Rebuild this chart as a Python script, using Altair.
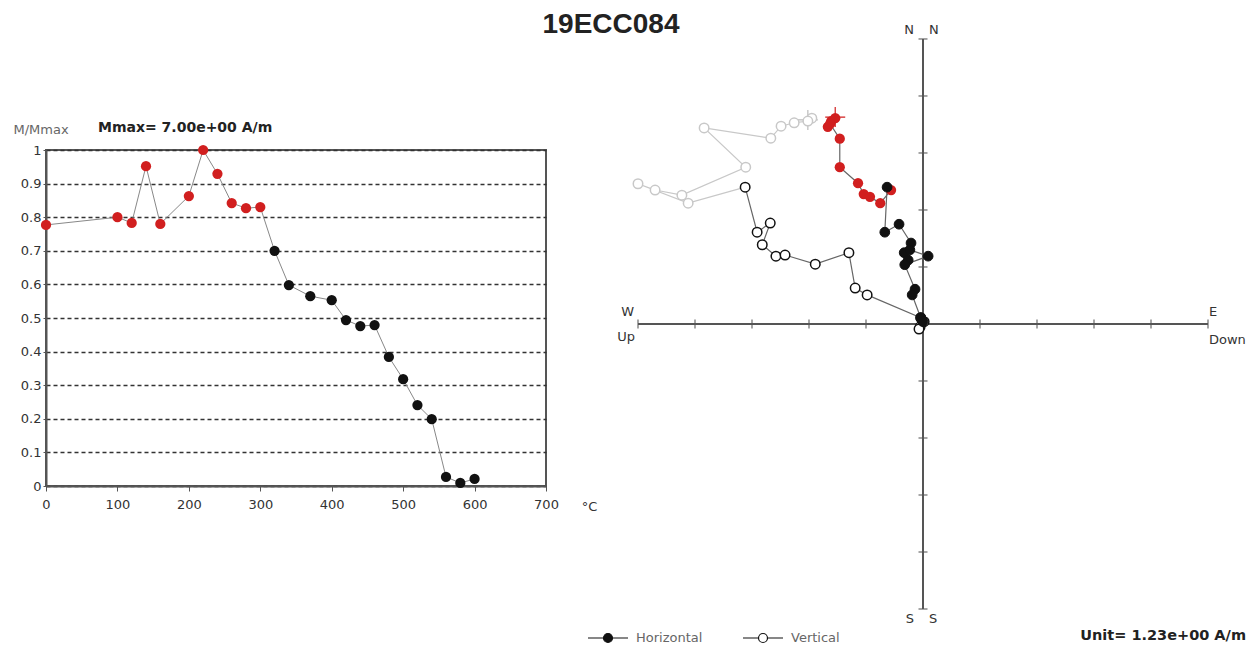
import altair as alt
import pandas as pd

TITLE = "19ECC084"
MMAX_LABEL = "Mmax= 7.00e+00  A/m"
UNIT_LABEL = "Unit=  1.23e+00 A/m"
FONT = "DejaVu Sans"

# ---- Demagnetisation curve ----
TEMPS = [0, 100, 120, 140, 160, 200, 220, 240, 260, 280, 300,
         320, 340, 370, 400, 420, 440, 460, 480, 500, 520, 540, 560, 580, 600]
M_NORM = [0.777, 0.800, 0.783, 0.952, 0.780, 0.863, 1.000, 0.929, 0.842, 0.827, 0.830,
          0.700, 0.598, 0.565, 0.553, 0.494, 0.476, 0.479, 0.384, 0.318, 0.241, 0.199,
          0.027, 0.009, 0.021]
N_LOW = 11  # first steps shown in red / light grey
T_TICKS = [0, 100, 200, 300, 400, 500, 600, 700]
M_TICKS = [0.0, 0.1, 0.2, 0.3, 0.4, 0.5, 0.6, 0.7, 0.8, 0.9, 1.0]

# ---- Zijderveld diagram (units of 1.23 A/m) ----
H_EAST = [-1.61, -1.54, -1.67, -1.63, -1.46, -1.46, -1.14, -1.04, -0.93, -0.75, -0.56,
          -0.63, -0.67, -0.42, -0.21, -0.33, -0.26, -0.23, 0.09, -0.32, -0.14, -0.19,
          -0.04, -0.02, 0.00]
H_NORTH = [3.56, 3.61, 3.46, 3.51, 3.25, 2.75, 2.47, 2.28, 2.23, 2.12, 2.35,
           2.40, 1.61, 1.75, 1.42, 1.25, 1.12, 1.30, 1.19, 1.04, 0.61, 0.51,
           0.11, 0.07, 0.04]
V_UP = [-1.95, -2.02, -2.26, -2.49, -2.67, -3.84, -3.11, -4.23, -4.70, -5.00, -4.12,
        -3.12, -2.91, -2.68, -2.82, -2.58, -2.42, -1.89, -1.30, -1.19, -0.98,
        -0.04, 0.02, -0.05, -0.07]
V_NORTH = [3.61, 3.56, 3.53, 3.47, 3.26, 3.44, 2.75, 2.26, 2.35, 2.46, 2.12,
           2.40, 1.61, 1.77, 1.39, 1.19, 1.21, 1.05, 1.25, 0.63, 0.51,
           0.11, 0.04, -0.05, -0.09]
CROSS_H = [-1.54, 3.63]
CROSS_V = [-2.02, 3.58]
ZIJ_LIMIT = 5
ZIJ_TICKS = [-5, -4, -3, -2, -1, 1, 2, 3, 4, 5]
ZIJ_TOP = 5.21

RED = "#d11f1f"
BLACK = "#111111"
LIGHT = "#c8c8c8"

# ================= Left panel =================
n = len(TEMPS)
left_df = pd.DataFrame({
    "T": TEMPS, "M": M_NORM,
    "phase": ["low"] * N_LOW + ["high"] * (n - N_LOW),
})

x_left = alt.X(
    "T:Q", scale=alt.Scale(domain=[0, 700], nice=False),
    axis=alt.Axis(values=T_TICKS, title="°C", titleX=543, titleY=20,
                  titleAlign="center", titleBaseline="middle", titleFont=FONT,
                  titleFontSize=13, titleFontWeight="normal", titleColor="#333",
                  labelFont=FONT, labelFontSize=13, labelColor="#333",
                  tickSize=5, tickColor="#555", labelPadding=7, labelOverlap=False,
                  domainColor="#555", domainWidth=2, grid=False, labelFlush=False),
)
y_left = alt.Y(
    "M:Q", scale=alt.Scale(domain=[0, 1], nice=False),
    axis=alt.Axis(values=M_TICKS, tickCount=11, format=".1~f", title="M/Mmax",
                  titleAngle=0, titleX=-33, titleY=-21, titleAlign="left",
                  titleBaseline="middle", titleFont=FONT, titleFontSize=13,
                  titleFontWeight="normal", titleColor="#666", labelFont=FONT,
                  labelFontSize=13, labelColor="#333", labelOverlap=False,
                  tickSize=3, tickColor="#555", labelPadding=2,
                  domainColor="#555", domainWidth=2, grid=True, gridDash=[4, 3],
                  gridColor="#333", gridWidth=1.6, labelFlush=False),
)

left_base = alt.Chart(left_df)
left_line = left_base.mark_line(color="#888", strokeWidth=1).encode(x=x_left, y=y_left)
left_pts = left_base.mark_point(filled=True, size=105, opacity=1, shape="circle").encode(
    x="T:Q", y="M:Q",
    color=alt.Color("phase:N", scale=alt.Scale(domain=["low", "high"], range=[RED, BLACK]),
                    legend=None),
)
left = alt.layer(left_line, left_pts).properties(
    width=500, height=336,
    view=alt.ViewBackground(stroke="#555", strokeWidth=2),
    title=alt.TitleParams(MMAX_LABEL, anchor="start", frame="group", dx=52, offset=-12,
                          font=FONT, fontSize=14, fontWeight="bold", color="#222"),
)

# ================= Right panel =================
h_df = pd.DataFrame({"step": range(n), "x": H_EAST, "y": H_NORTH,
                     "phase": ["low"] * N_LOW + ["high"] * (n - N_LOW), "proj": "Horizontal"})
v_df = pd.DataFrame({"step": range(n), "x": V_UP, "y": V_NORTH,
                     "phase": ["low"] * N_LOW + ["high"] * (n - N_LOW), "proj": "Vertical"})

xs = alt.Scale(domain=[-ZIJ_LIMIT, ZIJ_LIMIT], nice=False, zero=False)
ys = alt.Scale(domain=[-ZIJ_LIMIT, ZIJ_TOP], nice=False, zero=False)
X = alt.X("x:Q", scale=xs, axis=None)
Y = alt.Y("y:Q", scale=ys, axis=None)

hax_df = pd.DataFrame({"x": [-ZIJ_LIMIT], "x2": [ZIJ_LIMIT], "y": [0]})
vax_df = pd.DataFrame({"x": [0], "y": [-ZIJ_LIMIT], "y2": [ZIJ_LIMIT]})
hax = alt.Chart(hax_df).mark_rule(color="#555", strokeWidth=2).encode(x=X, x2="x2:Q", y=Y)
vax = alt.Chart(vax_df).mark_rule(color="#555", strokeWidth=2).encode(x=X, y=Y, y2="y2:Q")
hticks = alt.Chart(pd.DataFrame({"x": ZIJ_TICKS, "y": 0})).mark_tick(
    orient="vertical", size=9, thickness=1.5, color="#555").encode(x=X, y=Y)
vticks = alt.Chart(pd.DataFrame({"x": 0, "y": ZIJ_TICKS})).mark_tick(
    orient="horizontal", size=9, thickness=1.5, color="#555").encode(x=X, y=Y)

v_light_line = alt.Chart(v_df).transform_filter(alt.datum.step <= N_LOW).mark_line(
    color=LIGHT, strokeWidth=1.2).encode(x=X, y=Y, order="step:Q")
v_dark_line = alt.Chart(v_df).transform_filter(alt.datum.step >= N_LOW).mark_line(
    color="#666", strokeWidth=1.2).encode(x=X, y=Y, order="step:Q")
h_line = alt.Chart(h_df).mark_line(color="#666", strokeWidth=1.2).encode(
    x=X, y=Y, order="step:Q")

LEG_PATH = ("M-2.5,0L-0.56,0M0.56,0L2.5,0M-0.56,0A0.56,0.56,0,1,0,0.56,0"
            "A0.56,0.56,0,1,0,-0.56,0Z")
fill_enc = alt.Fill(
    "proj:N", scale=alt.Scale(domain=["Horizontal", "Vertical"], range=[BLACK, "#ffffff"]),
    legend=alt.Legend(orient="none", legendX=553, legendY=602, direction="horizontal",
                      title=None, symbolType=LEG_PATH, symbolSize=256,
                      symbolStrokeColor=BLACK, symbolStrokeWidth=1.2,
                      labelFont=FONT, labelFontSize=13, labelColor="#666",
                      labelOffset=19, columnPadding=37, padding=0),
)

v_light_pts = alt.Chart(v_df).transform_filter(alt.datum.step < N_LOW).mark_point(
    filled=True, fill="#ffffff", stroke=LIGHT, strokeWidth=1.5, size=90, opacity=1,
    shape="circle").encode(x=X, y=Y)
v_dark_pts = alt.Chart(v_df).transform_filter(alt.datum.step >= N_LOW).mark_point(
    filled=True, stroke=BLACK, strokeWidth=1.5, size=90, opacity=1,
    shape="circle").encode(x=X, y=Y, fill=fill_enc)
h_red_pts = alt.Chart(h_df).transform_filter(alt.datum.step < N_LOW).mark_point(
    filled=True, color=RED, size=105, opacity=1, shape="circle").encode(x=X, y=Y)
h_black_pts = alt.Chart(h_df).transform_filter(alt.datum.step >= N_LOW).mark_point(
    filled=True, stroke=BLACK, strokeWidth=1, size=95, opacity=1,
    shape="circle").encode(x=X, y=Y, fill=fill_enc)

CROSS_PATH = "M-1,0L1,0M0,-1L0,1"
cross_v = alt.Chart(pd.DataFrame({"x": [CROSS_V[0]], "y": [CROSS_V[1]]})).mark_point(
    shape=CROSS_PATH, size=400, stroke="#bbbbbb", strokeWidth=1.2, opacity=1).encode(x=X, y=Y)
cross_h = alt.Chart(pd.DataFrame({"x": [CROSS_H[0]], "y": [CROSS_H[1]]})).mark_point(
    shape=CROSS_PATH, size=400, stroke=RED, strokeWidth=1.2, opacity=1).encode(x=X, y=Y)


def label(text, x, y, align, dx, dy, size=13, weight="normal", color="#333"):
    return alt.Chart(pd.DataFrame({"x": [x], "y": [y], "t": [text]})).mark_text(
        align=align, baseline="middle", dx=dx, dy=dy, font=FONT, fontSize=size,
        fontWeight=weight, color=color).encode(x=X, y=Y, text="t:N")


labels = [
    label("W", -ZIJ_LIMIT, 0, "right", -4, -12),
    label("Up", -ZIJ_LIMIT, 0, "right", -3, 13),
    label("E", ZIJ_LIMIT, 0, "left", 1, -12),
    label("Down", ZIJ_LIMIT, 0, "left", 1, 16),
    label("N", 0, ZIJ_LIMIT, "right", -9, -9),
    label("N", 0, ZIJ_LIMIT, "left", 6, -9),
    label("S", 0, -ZIJ_LIMIT, "right", -9, 10),
    label("S", 0, -ZIJ_LIMIT, "left", 6, 10),
    label(UNIT_LABEL, ZIJ_LIMIT, -ZIJ_LIMIT, "right", 38, 27, size=14.5,
          weight="bold", color="#222"),
]

right = alt.layer(
    hax, vax, hticks, vticks,
    v_light_line, v_dark_line, h_line,
    cross_v, v_light_pts, v_dark_pts, h_red_pts, h_black_pts, cross_h,
    *labels,
).properties(width=570, height=582, view=alt.ViewBackground(stroke=None))

chart = alt.hconcat(left, right, spacing=92, center=True, bounds="flush").properties(
    title=alt.TitleParams(TITLE, anchor="middle", dx=-18, offset=-15,
                          font="Liberation Sans", fontSize=28, fontWeight="bold",
                          color="#222"),
    padding={"left": 4, "top": 2, "right": 0, "bottom": 0},
).configure(background="white")

chart.save("out.html", embed_options={"renderer": "svg", "actions": False})
